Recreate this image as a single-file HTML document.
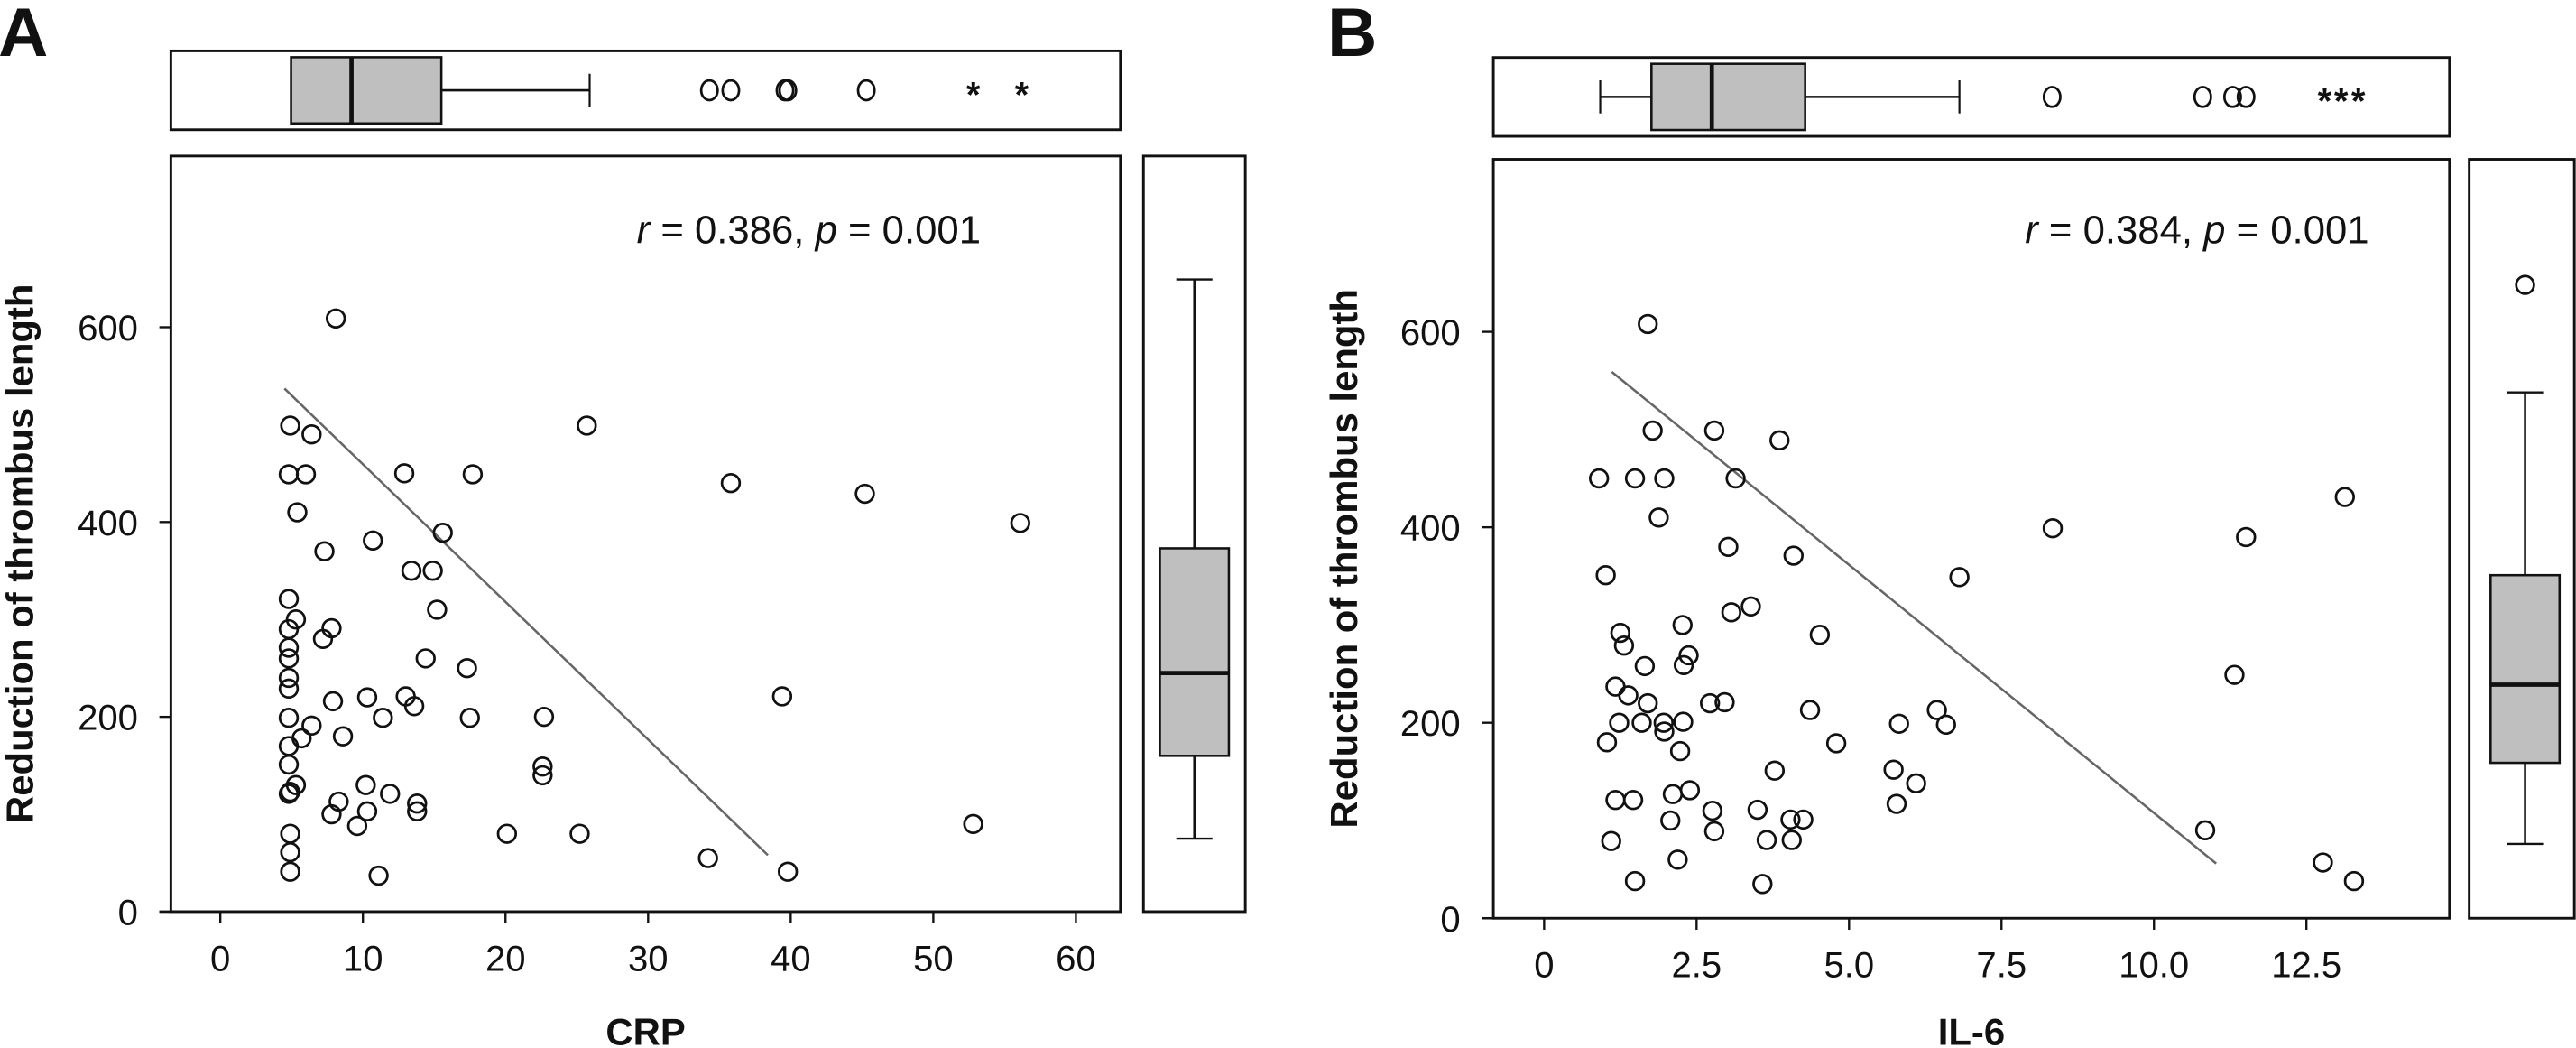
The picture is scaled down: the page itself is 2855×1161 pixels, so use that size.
<!DOCTYPE html>
<html><head><meta charset="utf-8">
<style>
html,body{margin:0;padding:0;background:#fff;}
svg{display:block;}
text{font-family:"Liberation Sans",sans-serif;fill:#111;}
</style></head>
<body>
<svg id="fig" width="2855" height="1161" viewBox="0 0 1568 638" preserveAspectRatio="none" xmlns="http://www.w3.org/2000/svg"></svg>
<script>
// ---- Panel A data (CRP) ----
const crpX = [8.1,4.9,6.4,4.8,6.0,5.4,12.9,17.7,25.7,35.8,45.2,56.1,10.7,15.6,7.3,13.4,14.9,4.8,5.3,4.8,7.8,7.2,15.2,4.8,4.8,14.4,17.3,4.8,4.8,7.9,10.3,13.0,13.6,39.4,4.8,11.4,17.5,22.7,6.4,8.6,5.7,4.8,4.8,22.6,22.6,5.3,10.2,4.9,4.8,11.9,8.3,13.8,13.8,10.3,7.8,9.6,52.8,4.9,20.1,25.2,4.9,34.2,4.9,39.8,11.1];
const crpY = [609,499,490,449,449,410,450,449,499,440,429,399,381,389,370,350,350,321,300,290,291,280,310,271,260,260,250,240,229,216,220,221,211,221,199,199,199,200,191,180,178,170,151,149,140,130,130,123,121,121,113,111,103,103,100,88,90,80,80,80,61,55,41,41,37];
const crpLine = [[4.5,537],[38.4,58]];
const crpTopBox = [4.96,4.96,9.2,15.5,25.9];
const crpTopOut = [34.3,35.8,39.6,39.8,45.3];
const crpTopExt = [52.8,56.2];
const redBoxA = [75,160,245,373,649];
const redOutA = [];
// ---- Panel B data (IL-6) ----
const il6X = [1.70,1.78,2.79,3.86,0.90,1.49,1.97,3.14,1.88,13.13,8.34,11.51,3.02,4.09,6.81,1.01,3.39,3.07,1.25,2.27,4.52,1.31,2.37,2.29,1.65,11.32,1.17,1.38,1.70,2.72,2.96,6.44,4.36,1.23,1.60,1.96,2.28,1.97,5.82,6.59,1.03,4.79,2.23,3.78,5.73,6.10,2.11,2.39,1.17,1.46,5.78,2.76,3.50,4.04,4.25,2.07,2.79,10.84,1.10,3.65,4.06,2.19,12.77,1.49,3.58,13.28];
const il6Y = [608,499,499,489,450,450,450,450,410,431,399,390,380,371,349,351,319,313,292,300,290,279,269,259,258,249,237,228,220,220,221,213,213,200,200,200,201,191,199,198,180,179,171,151,152,138,127,131,121,121,117,110,111,101,101,100,89,90,79,80,80,60,57,38,35,38];
const il6Line = [[1.11,559],[11.02,56]];
const il6TopBox = [0.92,1.76,2.75,4.28,6.81];
const il6TopOut = [8.33,10.8,11.29,11.51];
const il6TopExt = [12.8,13.07,13.35];
const redBoxB = [76,159,239,351,538];
const redOutB = [648];
const xTicksA = [0,10,20,30,40,50,60];
const xTickLabelsA = ["0","10","20","30","40","50","60"];
const xTicksB = [0,2.5,5,7.5,10,12.5];
const xTickLabelsB = ["0","2.5","5.0","7.5","10.0","12.5"];
const yTicks = [0,200,400,600];
const yTickLabels = ["0","200","400","600"];

const NS="http://www.w3.org/2000/svg";
const svg=document.getElementById('fig');
function mk(tag,attrs,parent,txt){const e=document.createElementNS(NS,tag);for(const k in attrs)e.setAttribute(k,attrs[k]);if(txt!==undefined)e.textContent=txt;(parent||svg).appendChild(e);return e;}

function panel(o){
  const g=mk('g',{});
  
  
  const sx=v=>o.x0+(v-o.xmin)*o.xk;
  const sy=v=>o.y0-v*o.yk;
  const L=mk('text',{x:o.letterX,y:34,'font-size':42,'font-weight':'bold'},g,o.letter);
  
  
  const tf=mk('rect',{x:o.bx1,y:o.ty1,width:o.bx2-o.bx1,height:o.ty2-o.ty1,fill:'none',stroke:'#111','stroke-width':1.6},g);
  
  
  const tc=(o.ty1+o.ty2)/2, th=(o.ty2-o.ty1)*0.42;
  const tb=o.topBox;
  mk('line',{x1:sx(tb[0]),x2:sx(tb[1]),y1:tc,y2:tc,stroke:'#111','stroke-width':1.4},g);
  mk('line',{x1:sx(tb[3]),x2:sx(tb[4]),y1:tc,y2:tc,stroke:'#111','stroke-width':1.4},g);
  mk('line',{x1:sx(tb[0]),x2:sx(tb[0]),y1:tc-th*0.5,y2:tc+th*0.5,stroke:'#111','stroke-width':1.2},g);
  mk('line',{x1:sx(tb[4]),x2:sx(tb[4]),y1:tc-th*0.5,y2:tc+th*0.5,stroke:'#111','stroke-width':1.2},g);
  const tbox=mk('rect',{x:sx(tb[1]),y:tc-th,width:sx(tb[3])-sx(tb[1]),height:2*th,fill:'#bfbfbf',stroke:'#111','stroke-width':1.4},g);
  
  
  mk('line',{x1:sx(tb[2]),x2:sx(tb[2]),y1:tc-th,y2:tc+th,stroke:'#111','stroke-width':2.6},g);
  o.topOut.forEach(v=>{const c=mk('ellipse',{cx:sx(v),cy:tc,rx:5,ry:6,fill:'none',stroke:'#111','stroke-width':1.5},g);
    
    });
  o.topExt.forEach(v=>{const t=mk('text',{x:sx(v),y:tc+10,'font-size':22,'font-weight':'bold','text-anchor':'middle'},g,'*');
    
    });
  const mf=mk('rect',{x:o.bx1,y:o.my1,width:o.bx2-o.bx1,height:o.y0-o.my1,fill:'none',stroke:'#111','stroke-width':1.6},g);
  
  
  mk('line',{x1:o.bx1-7,x2:o.bx1,y1:o.y0,y2:o.y0,stroke:'#111','stroke-width':1.4},g);
  yTicks.forEach((v,i)=>{
    mk('line',{x1:o.bx1-7,x2:o.bx1,y1:sy(v),y2:sy(v),stroke:'#111','stroke-width':1.3},g);
    const t=mk('text',{x:o.bx1-20,y:sy(v)+8,'font-size':22,'text-anchor':'end',fill:'#222'},g,yTickLabels[i]);
    
    
  });
  o.xTicks.forEach((v,i)=>{
    mk('line',{x1:sx(v),x2:sx(v),y1:o.y0,y2:o.y0+7,stroke:'#111','stroke-width':1.3},g);
    const t=mk('text',{x:sx(v),y:o.y0+36,'font-size':22,'text-anchor':'middle',fill:'#222'},g,o.xLabels[i]);
    
    
  });
  const xt=mk('text',{x:(o.bx1+o.bx2)/2,y:636,'font-size':23,'font-weight':'bold','text-anchor':'middle'},g,o.xTitle);
  
  
  const yc=(o.my1+o.y0)/2+12;
  const yt=mk('text',{x:o.ytX,y:yc,'font-size':23,'font-weight':'bold','text-anchor':'middle',transform:`rotate(-90 ${o.ytX} ${yc})`},g,'Reduction of thrombus length');
  
  
  const an=mk('text',{x:o.annX,y:148,'font-size':24,'text-anchor':'end',fill:'#111'},g);
  
  
  mk('tspan',{'font-style':'italic'},an,'r');
  mk('tspan',{},an,' = '+o.r+', ');
  mk('tspan',{'font-style':'italic'},an,'p');
  mk('tspan',{},an,' = 0.001');
  const rl=mk('line',{x1:sx(o.line[0][0]),y1:sy(o.line[0][1]),x2:sx(o.line[1][0]),y2:sy(o.line[1][1]),stroke:'#666','stroke-width':1.4},g);
  
  
  o.xs.forEach((v,i)=>{
    const c=mk('circle',{cx:sx(v),cy:sy(o.ys[i]),r:5.4,fill:'none',stroke:'#111','stroke-width':1.5},g);
    
    
  });
  const rf=mk('rect',{x:o.rx1,y:o.my1,width:o.rx2-o.rx1,height:o.y0-o.my1,fill:'none',stroke:'#111','stroke-width':1.6},g);
  
  
  const rc=o.rc, rw=21, rb=o.redBox;
  mk('line',{x1:rc,x2:rc,y1:sy(rb[0]),y2:sy(rb[1]),stroke:'#111','stroke-width':1.4},g);
  mk('line',{x1:rc,x2:rc,y1:sy(rb[3]),y2:sy(rb[4]),stroke:'#111','stroke-width':1.4},g);
  mk('line',{x1:rc-11,x2:rc+11,y1:sy(rb[0]),y2:sy(rb[0]),stroke:'#111','stroke-width':1.3},g);
  mk('line',{x1:rc-11,x2:rc+11,y1:sy(rb[4]),y2:sy(rb[4]),stroke:'#111','stroke-width':1.3},g);
  const rbx=mk('rect',{x:rc-rw,y:sy(rb[3]),width:2*rw,height:sy(rb[1])-sy(rb[3]),fill:'#bfbfbf',stroke:'#111','stroke-width':1.4},g);
  
  
  mk('line',{x1:rc-rw,x2:rc+rw,y1:sy(rb[2]),y2:sy(rb[2]),stroke:'#111','stroke-width':2.6},g);
  o.redOut.forEach(v=>{const c=mk('circle',{cx:rc,cy:sy(v),r:5.4,fill:'none',stroke:'#111','stroke-width':1.5},g);
    
    });
}
panel({name:'panel-a-crp',letter:'A',letterX:-1,x0:134.1,xmin:0,xk:8.68,y0:555,yk:0.593,bx1:104,bx2:682,ty1:31,ty2:79,my1:95,
  xs:crpX,ys:crpY,line:crpLine,topBox:crpTopBox,topOut:crpTopOut,topExt:crpTopExt,redBox:redBoxA,redOut:redOutA,
  xTicks:xTicksA,xLabels:xTickLabelsA,xTitle:'CRP',ytX:20,annX:597,r:'0.386',rx1:696,rx2:758,rc:727});
panel({name:'panel-b-il6',letter:'B',letterX:808,x0:939.9,xmin:0,xk:37.12,y0:559,yk:0.595,bx1:909,bx2:1491,ty1:35,ty2:83,my1:97,
  xs:il6X,ys:il6Y,line:il6Line,topBox:il6TopBox,topOut:il6TopOut,topExt:il6TopExt,redBox:redBoxB,redOut:redOutB,
  xTicks:xTicksB,xLabels:xTickLabelsB,xTitle:'IL-6',ytX:826,annX:1442,r:'0.384',rx1:1503,rx2:1567,rc:1537});
</script>
</body></html>
